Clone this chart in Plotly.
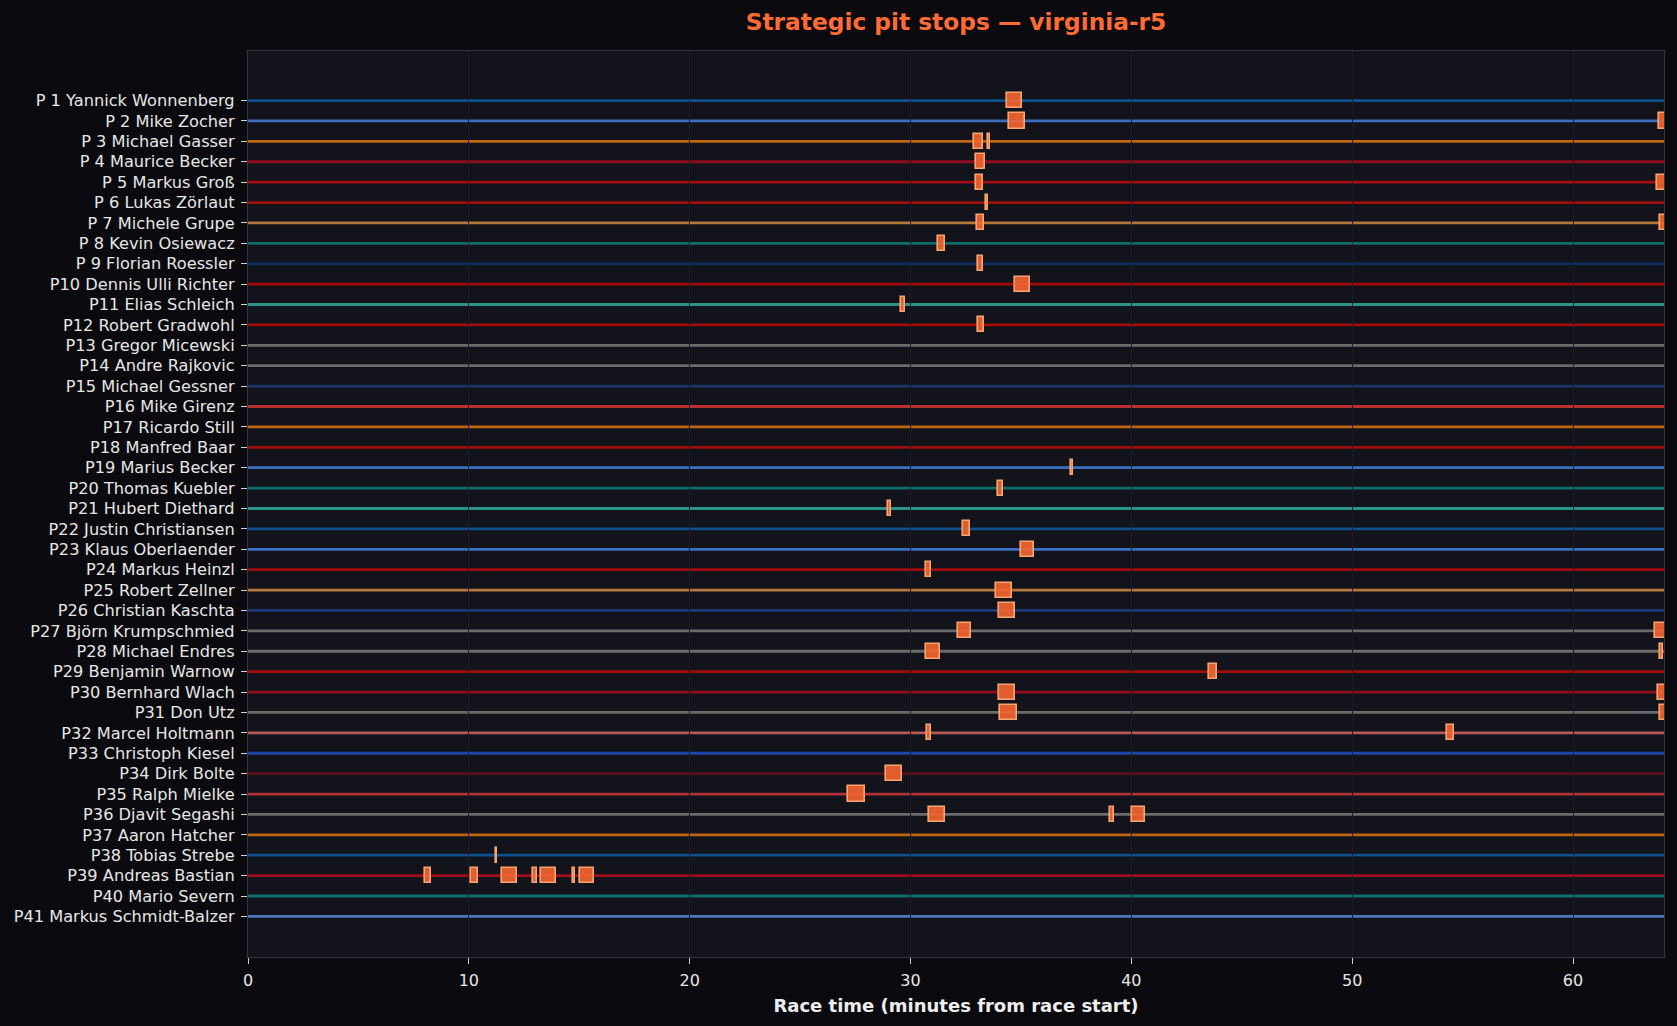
import plotly.graph_objects as go

# ---- data ----
drivers = [
    "P 1 Yannick Wonnenberg", "P 2 Mike Zocher", "P 3 Michael Gasser", "P 4 Maurice Becker",
    "P 5 Markus Groß", "P 6 Lukas Zörlaut", "P 7 Michele Grupe", "P 8 Kevin Osiewacz",
    "P 9 Florian Roessler", "P10 Dennis Ulli Richter", "P11 Elias Schleich", "P12 Robert Gradwohl",
    "P13 Gregor Micewski", "P14 Andre Rajkovic", "P15 Michael Gessner", "P16 Mike Girenz",
    "P17 Ricardo Still", "P18 Manfred Baar", "P19 Marius Becker", "P20 Thomas Kuebler",
    "P21 Hubert Diethard", "P22 Justin Christiansen", "P23 Klaus Oberlaender", "P24 Markus Heinzl",
    "P25 Robert Zellner", "P26 Christian Kaschta", "P27 Björn Krumpschmied", "P28 Michael Endres",
    "P29 Benjamin Warnow", "P30 Bernhard Wlach", "P31 Don Utz", "P32 Marcel Holtmann",
    "P33 Christoph Kiesel", "P34 Dirk Bolte", "P35 Ralph Mielke", "P36 Djavit Segashi",
    "P37 Aaron Hatcher", "P38 Tobias Strebe", "P39 Andreas Bastian", "P40 Mario Severn",
    "P41 Markus Schmidt-Balzer",
]

line_colors = [
    "#0f5190", "#3b6cc0", "#c0650f", "#8f0c1c", "#a50d12", "#a10d0d", "#b5783c", "#0e6e6a",
    "#0c2d5a", "#a30b0b", "#2a9488", "#a40d0d", "#6b6b6b", "#6b6b6b", "#1c3468", "#b8302f",
    "#c0650f", "#a10d0d", "#3a6fc4", "#0e6e6a", "#2a9488", "#0f5190", "#3a6fc4", "#a40d0d",
    "#b5783c", "#1e3a7a", "#6b6b6b", "#6b6b6b", "#a10d0d", "#8f0c1c", "#6b6b6b", "#b85a5a",
    "#1f45a6", "#5a0f1a", "#b03238", "#6b6b6b", "#c0650f", "#0f5190", "#9e0e1c", "#0e6e6a",
    "#4a78b8",
]

race_end = 64.12  # minutes

# pit stop start times (minutes from race start), per driver
stop_starts = [
    [34.35], [34.48, 63.88], [32.86, 33.52], [32.95], [32.95, 63.82], [33.43], [33.00, 63.95],
    [31.26], [33.07], [34.72], [29.58], [33.04], [], [], [], [], [], [], [37.28], [33.98],
    [28.99], [32.39], [34.99], [30.72], [33.89], [34.02], [32.17, 63.71], [30.72, 63.92],
    [43.50], [33.99, 63.84], [34.06, 63.94], [30.76, 54.29], [], [28.90], [27.18],
    [30.82, 39.04, 40.01], [], [11.22],
    [8.03, 10.11, 11.52, 12.92, 13.28, 14.72, 15.05], [], [],
]
# pit stop durations (minutes), per driver
stop_durs = [
    [0.72], [0.70, 0.50], [0.43, 0.06], [0.43], [0.34, 0.50], [0.10], [0.32, 0.50],
    [0.28], [0.19], [0.68], [0.15], [0.27], [], [], [], [], [], [], [0.08], [0.22],
    [0.11], [0.29], [0.60], [0.22], [0.69], [0.72], [0.55, 0.50], [0.63, 0.15],
    [0.40], [0.75, 0.50], [0.77, 0.50], [0.18, 0.32], [], [0.72], [0.77],
    [0.75, 0.16, 0.59], [], [0.06],
    [0.25, 0.30, 0.66, 0.15, 0.67, 0.09, 0.62], [], [],
]

x_ticks = [0, 10, 20, 30, 40, 50, 60]

# ---- figure ----
fig = go.Figure()

# driver timelines as shapes beneath the pit-stop bars
for i, col in enumerate(line_colors):
    fig.add_shape(
        type="line", xref="x", yref="y", x0=0, x1=race_end, y0=i, y1=i,
        line=dict(color=col, width=2.8), layer="below",
    )

bx, bbase, by = [], [], []
for i, (ss, dd) in enumerate(zip(stop_starts, stop_durs)):
    for s, d in zip(ss, dd):
        bx.append(d)
        bbase.append(s)
        by.append(i)

fig.add_trace(go.Bar(
    x=bx, base=bbase, y=by, orientation="h", width=0.74,
    marker=dict(color="rgba(242,100,48,0.92)", line=dict(color="#f6a572", width=1.6)),
    showlegend=False, hoverinfo="skip",
))

n = len(drivers)
fig.update_layout(
    width=1677, height=1026,
    paper_bgcolor="#0b0b0f", plot_bgcolor="#12131b",
    margin=dict(l=248, r=13, t=51, b=69),
    font=dict(family="DejaVu Sans", color="#e6e6e6", size=16),
    title=dict(
        text="<b>Strategic pit stops — virginia-r5</b>",
        xref="paper", x=0.5, xanchor="center", y=1 - 22 / 1026, yanchor="middle",
        font=dict(size=23.3, color="#ff6b35", family="DejaVu Sans"),
    ),
    bargap=0,
    xaxis=dict(
        range=[0, race_end], tickvals=x_ticks, ticks="outside", ticklen=6,
        ticklabelstandoff=3,
        tickcolor="#cfcfcf", tickfont=dict(size=16, color="#e6e6e6"),
        showgrid=True, gridcolor="#1a1b24", gridwidth=1, zeroline=False,
        showline=True, linecolor="#34353f", linewidth=1.2, mirror=True,
        title=dict(text="<b>Race time (minutes from race start)</b>",
                   font=dict(size=18, color="#eeeeee"), standoff=10),
    ),
    yaxis=dict(
        range=[n - 1 + 1.99, -2.43], tickvals=list(range(n)), ticktext=drivers,
        ticks="outside", ticklen=6, ticklabelstandoff=3, tickcolor="#cfcfcf",
        tickfont=dict(size=16.2, color="#e6e6e6"),
        showgrid=False, zeroline=False,
        showline=True, linecolor="#34353f", linewidth=1.2, mirror=True,
    ),
)

fig.write_html("out.html", config={"displayModeBar": False})

# remove default page margin so the figure fills the window
with open("out.html", "r", encoding="utf-8") as f:
    html = f.read()
html = html.replace("<body>", '<body style="margin:0;padding:0;background:#0b0b0f;overflow:hidden">', 1)
with open("out.html", "w", encoding="utf-8") as f:
    f.write(html)
